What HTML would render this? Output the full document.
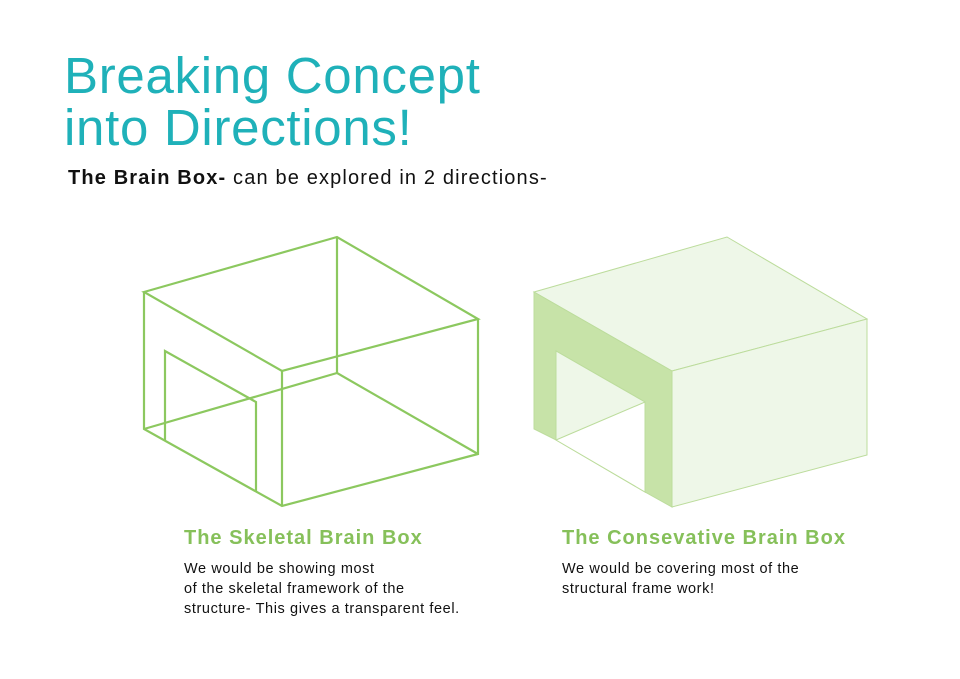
<!DOCTYPE html>
<html><head><style>
body{margin:0;width:960px;height:679px;background:#fff;position:relative;overflow:hidden;font-family:"Liberation Sans",sans-serif}
.t{position:absolute;color:#1fb1b9;font-size:51px;line-height:52px;left:64px;top:50px;letter-spacing:0.7px}
.s{position:absolute;left:68px;top:167px;font-size:20px;color:#111;letter-spacing:1.15px}
.h{position:absolute;color:#86c05a;font-weight:bold;font-size:20px;letter-spacing:1px}
.p{position:absolute;font-size:14.5px;line-height:20px;color:#111;letter-spacing:0.6px}
</style></head><body>
<div class="t">Breaking Concept<br>into Directions!</div>
<div class="s"><b>The Brain Box-</b> can be explored in 2 directions-</div>
<svg width="960" height="679" style="position:absolute;left:0;top:0">
<g fill="none" stroke="#8cc85f" stroke-width="2.2">
<polygon points="144,292 337,237 478,319 282,371"/>
<polyline points="144,292 144,429 282,506 478,454 478,319"/>
<line x1="282" y1="371" x2="282" y2="506"/>
<polyline points="337,237 337,373 478,454"/>
<line x1="337" y1="373" x2="144" y2="429"/>
<polyline points="165,440 165,351 256,402 256,492"/>
</g>
<g stroke="#bcdc9c" stroke-width="1">
<polygon points="534,292 727,237 867,319 672,371" fill="#eef7e8"/>
<polygon points="672,371 867,319 867,455 672,507" fill="#eef7e8"/>
<polygon points="534,292 672,371 672,507 645,492 645,402 556,351 556,440 534,429" fill="#c7e3a8"/>
<polygon points="556,351 645,402 645,492 556,440" fill="#eef7e8"/>
<polygon points="556,440 645,402 645,492" fill="#fff"/>
</g>
</svg>
<div class="h" style="left:184px;top:527px">The Skeletal Brain Box</div>
<div class="p" style="left:184px;top:559px">We would be showing most<br>of the skeletal framework of the<br>structure- This gives a transparent feel.</div>
<div class="h" style="left:562px;top:527px">The Consevative Brain Box</div>
<div class="p" style="left:562px;top:559px">We would be covering most of the<br>structural frame work!</div>
</body></html>
